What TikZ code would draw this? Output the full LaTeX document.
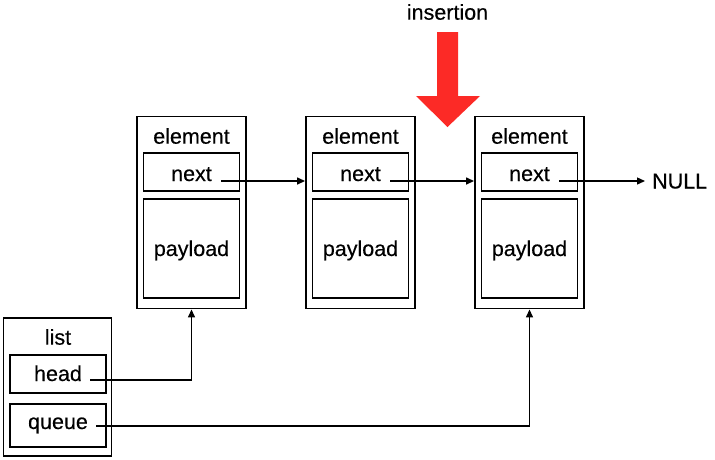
\documentclass[tikz,border=0pt]{standalone}
\usepackage{fontspec}
\setmainfont[UprightFeatures={FakeBold=0.35}]{Liberation Sans}
\usetikzlibrary{arrows.meta,calc}
\definecolor{insred}{HTML}{FC2A26}
\begin{document}
\begin{tikzpicture}[x=1pt,y=-1pt,
  box/.style={draw,line width=1.7pt,inner sep=0pt},
  txt/.style={inner sep=0pt,font=\fontsize{21.5}{25}\selectfont},
  arr/.style={line width=1.4pt,-{Triangle[length=8pt,width=7pt]}}]
\useasboundingbox (0,0) rectangle (715,459);
% elements
\foreach \i/\x in {1/137,2/306,3/475}{
  \node[box,line width=1.9pt,minimum width=109pt,minimum height=192pt] (e\i) at (\x+54.5,212.5) {};
  \node[txt] (et\i) at (\x+54.5,136) {element};
  \node[box,minimum width=96pt,minimum height=38pt] (n\i) at (\x+54.5,172) {};
  \node[txt,anchor=base] (nt\i) at (\x+54.5,181) {next};
  \node[box,minimum width=96pt,minimum height=99pt] (p\i) at (\x+54.5,248.5) {};
  \node[txt,anchor=base] (pt\i) at (\x+54.5,256) {payload};
}
\node[txt,anchor=base west] (null) at (652,188.5) {NULL};
\coordinate (s1) at ($(nt1.base east)+(9,0)$);
\coordinate (s2) at ($(nt2.base east)+(9,0)$);
\coordinate (s3) at ($(nt3.base east)+(9,0)$);
\draw[arr] (s1) -- (s1 -| e2.west);
\draw[arr] (s2) -- (s2 -| e3.west);
\draw[arr] (s3) -- ($(s3 -| null.west)+(-7,0)$);
% list
\node[box,line width=1.9pt,minimum width=108pt,minimum height=138pt] (l) at (57.5,387) {};
\node[txt] (lt) at (58,337) {list};
\node[box,minimum width=96pt,minimum height=38pt] (h) at (58,374) {};
\node[txt,anchor=base] (ht) at (58,381) {head};
\node[box,minimum width=96pt,minimum height=43pt] (q) at (58,425.5) {};
\node[txt,anchor=base] (qt) at (58,429) {queue};
\coordinate (hs) at ($(ht.base east)+(8,-1)$);
\coordinate (qs) at ($(qt.base east)+(8,-3)$);
\draw[arr] (hs) -| (e1.south);
\draw[arr] (qs) -| (e3.south);
% insertion arrow
\node[txt] (ins) at (447.5,12) {insertion};
\fill[insred] (437,32) -- (458,32) -- (458,96) -- (480,96) -- (447.5,127) -- (416,96) -- (437,96) -- cycle;
\end{tikzpicture}
\end{document}
